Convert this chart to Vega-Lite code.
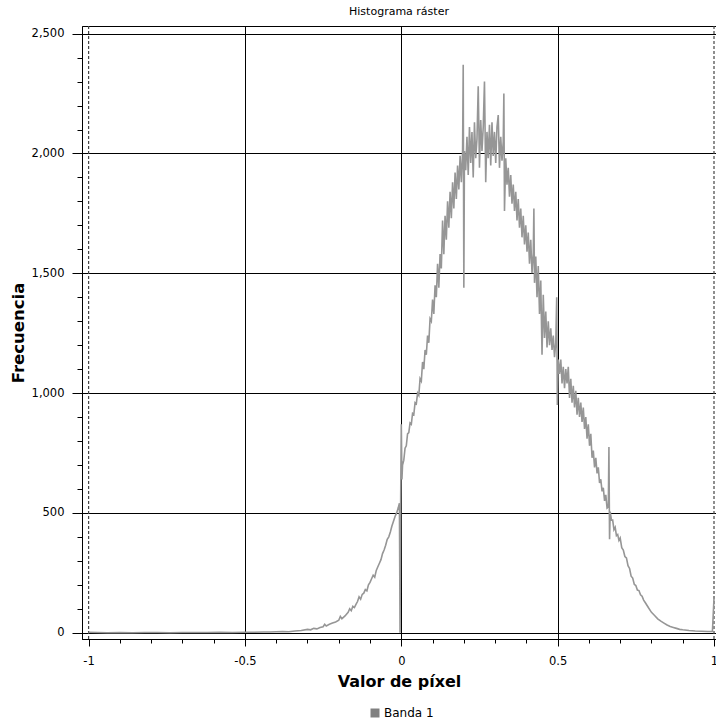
{
  "$schema": "https://vega.github.io/schema/vega-lite/v6.json",
  "width": 634,
  "height": 613,
  "autosize": "none",
  "padding": {"left": 82, "top": 26, "right": 0, "bottom": 80},
  "background": "white",
  "title": {"text": "Histograma ráster", "font": "DejaVu Sans", "fontSize": 11, "fontWeight": "normal", "color": "black", "anchor": "middle", "offset": 8},
  "config": {
    "view": {"stroke": "black", "strokeWidth": 1},
    "axis": {"labelFont": "DejaVu Sans", "labelFontSize": 11.5, "labelColor": "black", "titleFont": "DejaVu Sans", "titleFontWeight": "bold", "titleColor": "black", "domainColor": "black", "tickColor": "black", "gridColor": "black", "gridWidth": 1, "labelFlush": false, "labelOverlap": false}
  },
  "layer": [
    {
      "data": {"values": [{"v": -1}, {"v": 1}]},
      "mark": {"type": "rule", "color": "#444444", "strokeDash": [3, 2], "strokeWidth": 1.2},
      "encoding": {"x": {"field": "v", "type": "quantitative"}}
    },
    {
      "data": {"values": [
        {"v": -1, "f": 2}, {"v": -0.97, "f": 1}, {"v": -0.94, "f": 0}, {"v": -0.9, "f": 1}, {"v": -0.86, "f": 0}, {"v": -0.82, "f": 1}, {"v": -0.78, "f": 1}, {"v": -0.74, "f": 0}, {"v": -0.7, "f": 1}, {"v": -0.66, "f": 1}, {"v": -0.62, "f": 1}, {"v": -0.58, "f": 2}, {"v": -0.54, "f": 1}, {"v": -0.5, "f": 2}, {"v": -0.47, "f": 2}, {"v": -0.44, "f": 3}, {"v": -0.42, "f": 3}, {"v": -0.4, "f": 4}, {"v": -0.38, "f": 5}, {"v": -0.36, "f": 4}, {"v": -0.34, "f": 7}, {"v": -0.32, "f": 9}, {"v": -0.3, "f": 14}, {"v": -0.29, "f": 12}, {"v": -0.28, "f": 18}, {"v": -0.27, "f": 16}, {"v": -0.26, "f": 22}, {"v": -0.25, "f": 25}, {"v": -0.245, "f": 35}, {"v": -0.24, "f": 28}, {"v": -0.23, "f": 35}, {"v": -0.22, "f": 40}, {"v": -0.21, "f": 45}, {"v": -0.2, "f": 52}, {"v": -0.195, "f": 68}, {"v": -0.19, "f": 58}, {"v": -0.18, "f": 70}, {"v": -0.17, "f": 85}, {"v": -0.165, "f": 100}, {"v": -0.16, "f": 92}, {"v": -0.155, "f": 110}, {"v": -0.15, "f": 105}, {"v": -0.145, "f": 118}, {"v": -0.14, "f": 130}, {"v": -0.135, "f": 150}, {"v": -0.13, "f": 140}, {"v": -0.125, "f": 160}, {"v": -0.12, "f": 165}, {"v": -0.115, "f": 180}, {"v": -0.11, "f": 175}, {"v": -0.105, "f": 200}, {"v": -0.1, "f": 210}, {"v": -0.095, "f": 225}, {"v": -0.09, "f": 240}, {"v": -0.085, "f": 232}, {"v": -0.08, "f": 260}, {"v": -0.075, "f": 275}, {"v": -0.07, "f": 290}, {"v": -0.065, "f": 305}, {"v": -0.06, "f": 330}, {"v": -0.055, "f": 345}, {"v": -0.05, "f": 365}, {"v": -0.045, "f": 390}, {"v": -0.04, "f": 400}, {"v": -0.035, "f": 420}, {"v": -0.03, "f": 445}, {"v": -0.025, "f": 465}, {"v": -0.02, "f": 485}, {"v": -0.015, "f": 500}, {"v": -0.01, "f": 520}, {"v": -0.006, "f": 540}, {"v": -0.004, "f": 0}, {"v": -0.002, "f": 560}, {"v": 0, "f": 870},
        {"v": 0.002, "f": 640}, {"v": 0.004, "f": 700}, {"v": 0.008, "f": 720}, {"v": 0.012, "f": 770}, {"v": 0.016, "f": 780}, {"v": 0.02, "f": 830}, {"v": 0.024, "f": 835}, {"v": 0.028, "f": 875}, {"v": 0.032, "f": 870}, {"v": 0.036, "f": 915}, {"v": 0.04, "f": 910}, {"v": 0.044, "f": 960}, {"v": 0.048, "f": 955}, {"v": 0.052, "f": 1000}, {"v": 0.056, "f": 990}, {"v": 0.06, "f": 1060}, {"v": 0.064, "f": 1050}, {"v": 0.068, "f": 1130}, {"v": 0.072, "f": 1100}, {"v": 0.076, "f": 1180}, {"v": 0.08, "f": 1160}, {"v": 0.084, "f": 1240}, {"v": 0.088, "f": 1210}, {"v": 0.092, "f": 1310}, {"v": 0.096, "f": 1300}, {"v": 0.1, "f": 1390}, {"v": 0.104, "f": 1330}, {"v": 0.108, "f": 1450}, {"v": 0.112, "f": 1400}, {"v": 0.116, "f": 1540}, {"v": 0.12, "f": 1440}, {"v": 0.124, "f": 1580}, {"v": 0.128, "f": 1520}, {"v": 0.132, "f": 1720}, {"v": 0.136, "f": 1580}, {"v": 0.14, "f": 1740}, {"v": 0.144, "f": 1640}, {"v": 0.148, "f": 1800}, {"v": 0.152, "f": 1690}, {"v": 0.156, "f": 1840}, {"v": 0.16, "f": 1730}, {"v": 0.164, "f": 1880}, {"v": 0.168, "f": 1770}, {"v": 0.172, "f": 1920}, {"v": 0.176, "f": 1810}, {"v": 0.18, "f": 1950}, {"v": 0.184, "f": 1850}, {"v": 0.188, "f": 1990}, {"v": 0.192, "f": 1880}, {"v": 0.196, "f": 2010}, {"v": 0.198, "f": 2370}, {"v": 0.2, "f": 1440}, {"v": 0.202, "f": 2010}, {"v": 0.206, "f": 1930}, {"v": 0.21, "f": 2070}, {"v": 0.214, "f": 1910}, {"v": 0.218, "f": 2110}, {"v": 0.222, "f": 1960}, {"v": 0.226, "f": 2090}, {"v": 0.23, "f": 1900}, {"v": 0.234, "f": 2130}, {"v": 0.238, "f": 1980}, {"v": 0.242, "f": 2060}, {"v": 0.246, "f": 2280}, {"v": 0.25, "f": 1940}, {"v": 0.254, "f": 2140}, {"v": 0.258, "f": 2010}, {"v": 0.262, "f": 2110}, {"v": 0.266, "f": 2300}, {"v": 0.27, "f": 1880}, {"v": 0.274, "f": 2090}, {"v": 0.278, "f": 1980}, {"v": 0.282, "f": 2120}, {"v": 0.286, "f": 1950}, {"v": 0.29, "f": 2130}, {"v": 0.294, "f": 1990}, {"v": 0.298, "f": 2090}, {"v": 0.302, "f": 1960}, {"v": 0.306, "f": 2110}, {"v": 0.31, "f": 2160}, {"v": 0.314, "f": 1940}, {"v": 0.318, "f": 2070}, {"v": 0.322, "f": 1970}, {"v": 0.326, "f": 2050}, {"v": 0.328, "f": 2250}, {"v": 0.33, "f": 1760}, {"v": 0.334, "f": 1980}, {"v": 0.338, "f": 1870}, {"v": 0.342, "f": 1940}, {"v": 0.346, "f": 1820}, {"v": 0.35, "f": 1910}, {"v": 0.354, "f": 1790}, {"v": 0.358, "f": 1870}, {"v": 0.362, "f": 1760}, {"v": 0.366, "f": 1840}, {"v": 0.37, "f": 1720}, {"v": 0.374, "f": 1810}, {"v": 0.378, "f": 1690}, {"v": 0.382, "f": 1770}, {"v": 0.386, "f": 1650}, {"v": 0.39, "f": 1740}, {"v": 0.394, "f": 1620}, {"v": 0.398, "f": 1700}, {"v": 0.402, "f": 1590}, {"v": 0.406, "f": 1670}, {"v": 0.41, "f": 1540}, {"v": 0.414, "f": 1640}, {"v": 0.418, "f": 1500}, {"v": 0.422, "f": 1580}, {"v": 0.424, "f": 1770}, {"v": 0.426, "f": 1460}, {"v": 0.43, "f": 1570}, {"v": 0.434, "f": 1400}, {"v": 0.438, "f": 1530}, {"v": 0.442, "f": 1330}, {"v": 0.446, "f": 1470}, {"v": 0.45, "f": 1160}, {"v": 0.454, "f": 1410}, {"v": 0.458, "f": 1230}, {"v": 0.462, "f": 1340}, {"v": 0.466, "f": 1190}, {"v": 0.47, "f": 1300}, {"v": 0.474, "f": 1200}, {"v": 0.478, "f": 1270}, {"v": 0.482, "f": 1180}, {"v": 0.486, "f": 1240}, {"v": 0.49, "f": 1150}, {"v": 0.494, "f": 1210}, {"v": 0.497, "f": 1400}, {"v": 0.499, "f": 950}, {"v": 0.502, "f": 1140}, {"v": 0.506, "f": 1080}, {"v": 0.51, "f": 1140}, {"v": 0.514, "f": 1040}, {"v": 0.518, "f": 1110}, {"v": 0.522, "f": 1020}, {"v": 0.526, "f": 1100}, {"v": 0.53, "f": 1040}, {"v": 0.534, "f": 1110}, {"v": 0.538, "f": 980}, {"v": 0.542, "f": 1060}, {"v": 0.546, "f": 960}, {"v": 0.55, "f": 1030}, {"v": 0.554, "f": 940}, {"v": 0.558, "f": 1010}, {"v": 0.562, "f": 910}, {"v": 0.566, "f": 980}, {"v": 0.57, "f": 900}, {"v": 0.574, "f": 960}, {"v": 0.578, "f": 880}, {"v": 0.582, "f": 940}, {"v": 0.586, "f": 850}, {"v": 0.59, "f": 900}, {"v": 0.594, "f": 810}, {"v": 0.598, "f": 870}, {"v": 0.602, "f": 780}, {"v": 0.606, "f": 830}, {"v": 0.61, "f": 730}, {"v": 0.614, "f": 760}, {"v": 0.618, "f": 690}, {"v": 0.622, "f": 730}, {"v": 0.626, "f": 665}, {"v": 0.63, "f": 690}, {"v": 0.634, "f": 625}, {"v": 0.638, "f": 640}, {"v": 0.642, "f": 590}, {"v": 0.646, "f": 605}, {"v": 0.65, "f": 550}, {"v": 0.654, "f": 575}, {"v": 0.658, "f": 520}, {"v": 0.662, "f": 525}, {"v": 0.664, "f": 775}, {"v": 0.666, "f": 390}, {"v": 0.668, "f": 505}, {"v": 0.672, "f": 470}, {"v": 0.676, "f": 470}, {"v": 0.68, "f": 430}, {"v": 0.684, "f": 440}, {"v": 0.688, "f": 405}, {"v": 0.692, "f": 410}, {"v": 0.696, "f": 385}, {"v": 0.7, "f": 395}, {"v": 0.705, "f": 355}, {"v": 0.71, "f": 345}, {"v": 0.715, "f": 318}, {"v": 0.72, "f": 312}, {"v": 0.725, "f": 280}, {"v": 0.73, "f": 268}, {"v": 0.735, "f": 236}, {"v": 0.74, "f": 228}, {"v": 0.745, "f": 202}, {"v": 0.75, "f": 197}, {"v": 0.755, "f": 178}, {"v": 0.76, "f": 176}, {"v": 0.765, "f": 158}, {"v": 0.77, "f": 152}, {"v": 0.775, "f": 136}, {"v": 0.78, "f": 126}, {"v": 0.79, "f": 105}, {"v": 0.8, "f": 85}, {"v": 0.81, "f": 72}, {"v": 0.82, "f": 58}, {"v": 0.83, "f": 48}, {"v": 0.84, "f": 40}, {"v": 0.85, "f": 32}, {"v": 0.86, "f": 26}, {"v": 0.87, "f": 22}, {"v": 0.88, "f": 18}, {"v": 0.89, "f": 14}, {"v": 0.9, "f": 12}, {"v": 0.92, "f": 9}, {"v": 0.94, "f": 7}, {"v": 0.96, "f": 6}, {"v": 0.98, "f": 5}, {"v": 0.995, "f": 5}, {"v": 1, "f": 145}
      ]},
      "mark": {"type": "line", "strokeWidth": 1.6, "clip": true},
      "encoding": {
        "x": {
          "field": "v", "type": "quantitative",
          "scale": {"domain": [-1.0211, 1.0064], "nice": false, "zero": false},
          "axis": {
            "title": "Valor de píxel", "titleFontSize": 16, "titlePadding": 7,
            "tickCount": 100,
            "values": [-1, -0.9, -0.8, -0.7, -0.6, -0.5, -0.4, -0.3, -0.2, -0.1, 0, 0.1, 0.2, 0.3, 0.4, 0.5, 0.6, 0.7, 0.8, 0.9, 1],
            "labelExpr": "(abs(datum.value) < 0.01 || abs(abs(datum.value) - 0.5) < 0.01 || abs(abs(datum.value) - 1) < 0.01) ? ''+datum.value : ''",
            "labelPadding": 9,
            "tickSize": {"condition": {"test": "abs(datum.value) < 0.01 || abs(abs(datum.value) - 0.5) < 0.01 || abs(abs(datum.value) - 1) < 0.01", "value": 7}, "value": 4},
            "gridOpacity": {"condition": {"test": "abs(datum.value) < 0.01 || abs(abs(datum.value) - 0.5) < 0.01", "value": 1}, "value": 0}
          }
        },
        "y": {
          "field": "f", "type": "quantitative",
          "scale": {"domain": [-26.3, 2532], "nice": false, "zero": false},
          "axis": {
            "title": "Frecuencia", "titleFontSize": 16.5, "titlePadding": 5,
            "tickCount": 100,
            "values": [0, 100, 200, 300, 400, 500, 600, 700, 800, 900, 1000, 1100, 1200, 1300, 1400, 1500, 1600, 1700, 1800, 1900, 2000, 2100, 2200, 2300, 2400, 2500],
            "labelExpr": "datum.value % 500 === 0 ? format(datum.value, ',') : ''",
            "labelPadding": 8,
            "tickSize": {"condition": {"test": "datum.value % 500 === 0", "value": 10}, "value": 5},
            "gridOpacity": {"condition": {"test": "datum.value % 500 === 0", "value": 1}, "value": 0}
          }
        },
        "color": {
          "datum": "Banda 1", "type": "nominal",
          "scale": {"range": ["#969696"]},
          "legend": {
            "title": null, "orient": "none", "legendX": 287, "legendY": 681, "padding": 0,
            "symbolType": "square", "symbolSize": 81, "labelFont": "DejaVu Sans", "labelFontSize": 12, "labelColor": "black", "labelOffset": 3,
            "encode": {"symbols": {"update": {"fill": {"value": "#808080"}, "stroke": {"value": "#808080"}, "strokeWidth": {"value": 0}}}}
          }
        }
      }
    }
  ]
}
